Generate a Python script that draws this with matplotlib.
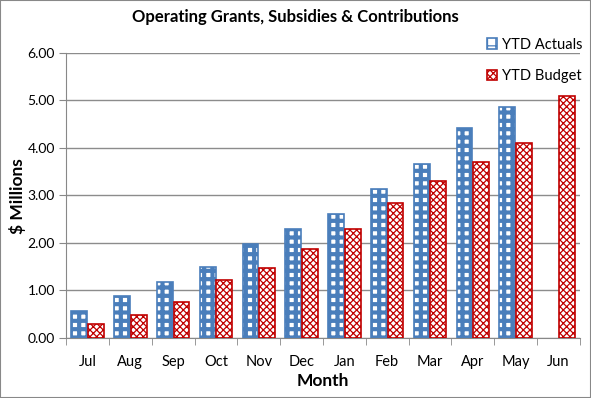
import numpy as np
import matplotlib.pyplot as plt
from matplotlib.patches import Rectangle

# === Data ===
months = ["Jul", "Aug", "Sep", "Oct", "Nov", "Dec", "Jan", "Feb", "Mar", "Apr", "May", "Jun"]
ytd_actuals = [0.57, 0.88, 1.18, 1.49, 1.98, 2.29, 2.61, 3.14, 3.66, 4.42, 4.86, np.nan]
ytd_budget = [0.29, 0.48, 0.76, 1.22, 1.47, 1.87, 2.29, 2.84, 3.31, 3.71, 4.10, 5.09]

plt.rcParams['font.family'] = ['Lato', 'DejaVu Sans']

blue = "#4a7ebb"
red = "#c00000"

fig = plt.figure(figsize=(5.91, 3.98), dpi=100)
ax = fig.add_axes([0.112, 0.151, 0.869, 0.716])

x = np.arange(len(months))
w = 0.37
plt.rcParams['hatch.linewidth'] = 3.0
ax.bar(x - w / 2 - 0.01, ytd_actuals, w, color="white", edgecolor=blue,
       hatch="++", linewidth=1.2, label="YTD Actuals", zorder=3)
plt.rcParams['hatch.linewidth'] = 0.9
ax.bar(x + w / 2 + 0.01, ytd_budget, w, color="white", edgecolor=red,
       hatch="xxxxx", linewidth=1.2, label="YTD Budget", zorder=3)

# === Axes styling ===
ax.set_xlim(-0.5, len(months) - 0.5)
ax.set_ylim(0, 6)
yt = np.arange(0, 6.01, 1)
ax.set_yticks(yt)
ax.set_yticklabels([f"{v:.2f}" for v in yt], fontsize=10)
ax.set_xticks(x)
ax.set_xticklabels(months, fontsize=10.5)
ax.set_xticks(np.arange(-0.5, len(months)), minor=True)
ax.tick_params(axis="x", which="major", length=0, pad=12)
ax.tick_params(axis="x", which="minor", length=5, color="#888888")
ax.tick_params(axis="y", length=5, color="#888888", pad=3)
ax.grid(axis="y", color="#8c8c8c", linewidth=1, zorder=0)
for s in ["top", "right"]:
    ax.spines[s].set_visible(False)
for s in ["left", "bottom"]:
    ax.spines[s].set_color("#888888")

fig.text(0.5, 1 - 17 / 398, "Operating Grants, Subsidies & Contributions",
         fontsize=12, fontweight="bold", ha="center", va="center")
ax.set_xlabel("Month", fontsize=12.5, fontweight="bold", labelpad=3)
fig.text(18 / 591, 1 - 196 / 398, "$ Millions", fontsize=12.5, fontweight="bold",
         rotation=90, ha="center", va="center")

ax.legend(loc="upper right", frameon=False, fontsize=10.5, handlelength=0.7,
          handleheight=0.7, labelspacing=1.2, handletextpad=0.3,
          bbox_to_anchor=(1.03, 1.1))

# figure border
fig.patches.append(Rectangle((0, 0), 1, 1, transform=fig.transFigure,
                             fill=False, edgecolor="#888888", linewidth=1.5))

plt.savefig("out.png", dpi=100)
